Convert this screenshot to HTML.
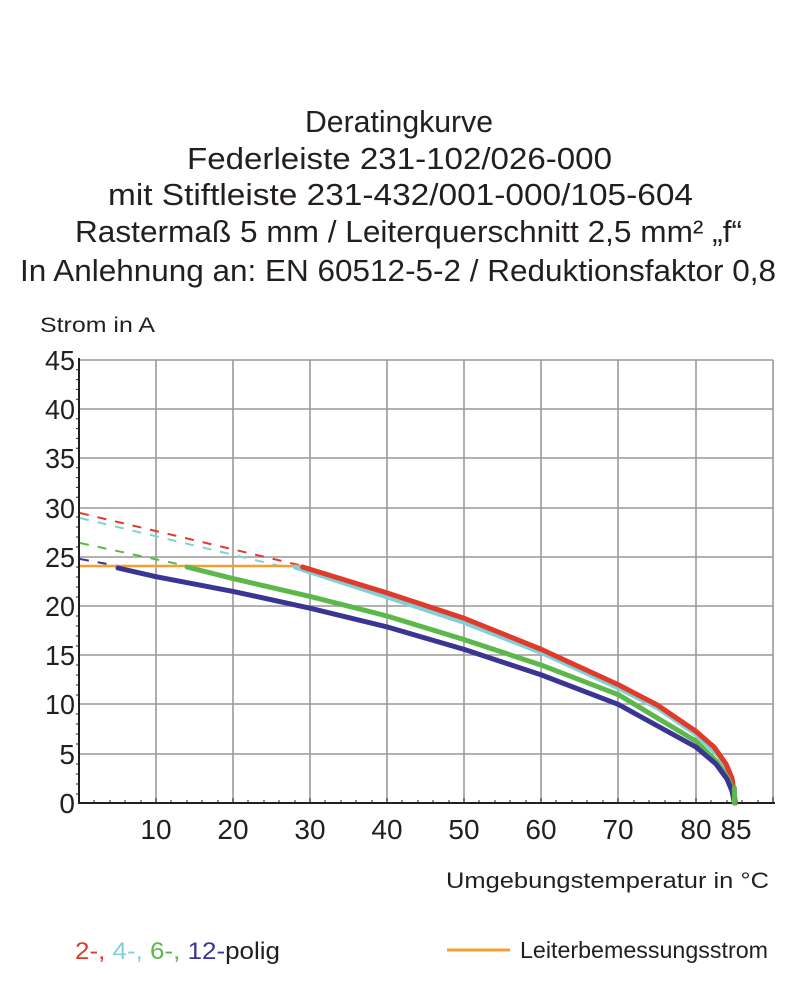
<!DOCTYPE html>
<html><head><meta charset="utf-8"><style>
html,body{margin:0;padding:0;background:#fff;}
svg{display:block;font-family:"Liberation Sans",sans-serif;}
</style></head><body>
<svg width="801" height="1000" viewBox="0 0 801 1000" xmlns="http://www.w3.org/2000/svg">
<g font-size="31" fill="#231f20" text-anchor="start">
<text x="305" y="132" textLength="188" lengthAdjust="spacingAndGlyphs">Deratingkurve</text>
<text x="187" y="169" textLength="425" lengthAdjust="spacingAndGlyphs">Federleiste 231-102/026-000</text>
<text x="108" y="205" textLength="585" lengthAdjust="spacingAndGlyphs">mit Stiftleiste 231-432/001-000/105-604</text>
<text x="75" y="242" textLength="667" lengthAdjust="spacingAndGlyphs">Rastermaß 5 mm / Leiterquerschnitt 2,5 mm² „f“</text>
<text x="20" y="281" textLength="756" lengthAdjust="spacingAndGlyphs">In Anlehnung an: EN 60512-5-2 / Reduktionsfaktor 0,8</text>
</g>
<text x="40" y="332" font-size="21" fill="#231f20" textLength="115" lengthAdjust="spacingAndGlyphs">Strom in A</text>
<g stroke="#999" stroke-width="1.6" fill="none">
<line x1="156" y1="360" x2="156" y2="803"/><line x1="233" y1="360" x2="233" y2="803"/>
<line x1="310" y1="360" x2="310" y2="803"/><line x1="387" y1="360" x2="387" y2="803"/>
<line x1="464" y1="360" x2="464" y2="803"/><line x1="541" y1="360" x2="541" y2="803"/>
<line x1="618" y1="360" x2="618" y2="803"/><line x1="696" y1="360" x2="696" y2="803"/>
<line x1="773" y1="360" x2="773" y2="803"/>
<line x1="79" y1="360" x2="773" y2="360"/><line x1="79" y1="409" x2="773" y2="409"/>
<line x1="79" y1="458" x2="773" y2="458"/><line x1="79" y1="508" x2="773" y2="508"/>
<line x1="79" y1="557" x2="773" y2="557"/><line x1="79" y1="606" x2="773" y2="606"/>
<line x1="79" y1="655" x2="773" y2="655"/><line x1="79" y1="704" x2="773" y2="704"/>
<line x1="79" y1="754" x2="773" y2="754"/>
</g>
<g stroke="#231f20" stroke-width="2">
<line x1="79" y1="358" x2="79" y2="804"/><line x1="78" y1="803" x2="775" y2="803"/>
</g>
<g stroke="#231f20" stroke-width="1">
<path d="M79 369.8h-3M79 379.6h-3M79 389.4h-3M79 399.2h-3M79 418.8h-3M79 428.6h-3M79 438.4h-3M79 448.2h-3M79 467.8h-3M79 477.6h-3M79 487.4h-3M79 497.2h-3M79 517h-3M79 527h-3M79 537h-3M79 547h-3M79 567h-3M79 577h-3M79 587h-3M79 597h-3M79 616h-3M79 626h-3M79 636h-3M79 646h-3M79 665h-3M79 675h-3M79 685h-3M79 695h-3M79 714h-3M79 724h-3M79 734h-3M79 744h-3M79 764h-3M79 774h-3M79 784h-3M79 794h-3"/>
<path d="M94 803v-3M110 803v-3M125 803v-3M141 803v-3M171 803v-3M187 803v-3M202 803v-3M218 803v-3M248 803v-3M264 803v-3M279 803v-3M295 803v-3M325 803v-3M341 803v-3M356 803v-3M372 803v-3M402 803v-3M418 803v-3M433 803v-3M449 803v-3M479 803v-3M495 803v-3M510 803v-3M526 803v-3M556 803v-3M572 803v-3M587 803v-3M603 803v-3M634 803v-3M649 803v-3M665 803v-3M680 803v-3M711 803v-3M727 803v-3M742 803v-3M758 803v-3M156 803v-5M233 803v-5M310 803v-5M387 803v-5M464 803v-5M541 803v-5M618 803v-5M696 803v-5M773 803v-6"/>
</g>
<g font-size="28" fill="#231f20" text-anchor="end">
<text x="75" y="370" textLength="30" lengthAdjust="spacingAndGlyphs">45</text><text x="75" y="419" textLength="30" lengthAdjust="spacingAndGlyphs">40</text><text x="75" y="468" textLength="30" lengthAdjust="spacingAndGlyphs">35</text>
<text x="75" y="518" textLength="30" lengthAdjust="spacingAndGlyphs">30</text><text x="75" y="567" textLength="30" lengthAdjust="spacingAndGlyphs">25</text><text x="75" y="616" textLength="30" lengthAdjust="spacingAndGlyphs">20</text>
<text x="75" y="665" textLength="30" lengthAdjust="spacingAndGlyphs">15</text><text x="75" y="714" textLength="30" lengthAdjust="spacingAndGlyphs">10</text><text x="75" y="764">5</text>
<text x="75" y="813">0</text>
</g>
<g font-size="28" fill="#231f20" text-anchor="middle">
<text x="156" y="839">10</text><text x="233" y="839">20</text><text x="310" y="839">30</text>
<text x="387" y="839">40</text><text x="464" y="839">50</text><text x="541" y="839">60</text>
<text x="618" y="839">70</text><text x="696" y="839">80</text><text x="736" y="839">85</text>
</g>
<text x="446" y="888" font-size="22" fill="#231f20" textLength="323" lengthAdjust="spacingAndGlyphs">Umgebungstemperatur in °C</text>
<g fill="none" stroke-width="2" stroke-dasharray="9,9">
<path d="M80 513L303 566" stroke="#e03a2a"/>
<path d="M80 518L288 568" stroke="#7fd0d8"/>
<path d="M80 543L187 566" stroke="#5cb84a"/>
<path d="M80 559L118 566" stroke="#3a3494"/>
</g>
<path d="M80 566L303 566" stroke="#f2a030" stroke-width="2.5" fill="none"/>
<g fill="none" stroke-linejoin="round" stroke-linecap="round">
<path d="M295 567L387.4 597L464.5 622.5L541.6 652.5L618.7 688L657.3 707.6L695.8 734L719 756L730.5 775L734.4 803" stroke="#7fd0d8" stroke-width="5"/>
<path d="M302.6 567L387.4 593L464.5 618.4L541.6 649.5L618.7 684.9L657.3 705L695.8 731.2L714 747L726 764L732 778L735.5 803" stroke="#e03a2a" stroke-width="5"/>
<path d="M187 567L233 578.6L310 596.4L387 616L464.5 639.7L541.6 665.2L618.7 694.8L695.8 741L716 761L728 778L734 793L734.4 803" stroke="#5cb84a" stroke-width="5"/>
<path d="M118 568L156 576.7L233 591.4L310 608.2L387 626.9L464.5 649.5L541.6 675L618.7 704.6L695.8 746.9L716 764L727 779L732 791L734.4 803" stroke="#3a3494" stroke-width="5"/>
<path d="M734.4 788L734.4 803" stroke="#5cb84a" stroke-width="5"/>
</g>
<g font-size="24">
<text x="75" y="959" textLength="205" lengthAdjust="spacingAndGlyphs"><tspan fill="#e03a2a">2-,</tspan><tspan fill="#7fd0d8"> 4-,</tspan><tspan fill="#5cb84a"> 6-,</tspan><tspan fill="#3a3494"> 12-</tspan><tspan fill="#231f20">polig</tspan></text>
</g>
<line x1="447" y1="950" x2="510" y2="950" stroke="#f2a030" stroke-width="3"/>
<text x="520" y="958" font-size="23" fill="#231f20" textLength="248" lengthAdjust="spacingAndGlyphs">Leiterbemessungsstrom</text>
</svg>
</body></html>
